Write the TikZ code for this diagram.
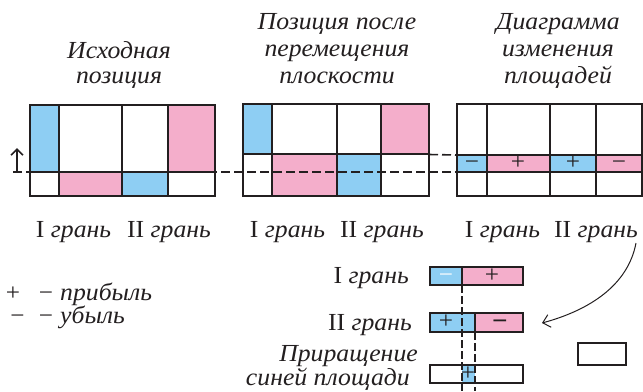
\documentclass[tikz,border=0pt]{standalone}
\usepackage{fontspec}
\setmainfont{Liberation Serif}[FakeStretch=1.05]
\usetikzlibrary{arrows.meta}
\definecolor{cblue}{RGB}{142,206,243}
\definecolor{cpink}{RGB}{244,174,203}
\definecolor{cline}{RGB}{35,31,32}
\tikzset{
  gridln/.style={draw=cline, line width=2bp},
  barln/.style={draw=cline, line width=1.5bp},
  dashln/.style={draw=cline, line width=1.6bp, dash pattern=on 9bp off 4bp},
  vdash/.style={draw=cline, line width=2bp, dash pattern=on 8bp off 3bp},
  lbl/.style={anchor=base, inner sep=0pt, text=cline},
  sgn/.style={anchor=base, inner sep=0pt, text=cline, font=\fontsize{24bp}{24bp}\selectfont},
}
\begin{document}
\begin{tikzpicture}[x=1bp,y=-1bp, font=\fontsize{24.5bp}{28bp}\selectfont]
\useasboundingbox (0,0) rectangle (643,391);
% titles
\node[lbl] (t1a) at (119,58) {\itshape Исходная};
\node[lbl] (t1b) at (119,83) {\itshape позиция};
\node[lbl] (t2a) at (337,29) {\itshape Позиция после};
\node[lbl] (t2b) at (337,56) {\itshape перемещения};
\node[lbl] (t2c) at (337,83) {\itshape плоскости};
\node[lbl] (t3a) at (558,29) {\itshape Диаграмма};
\node[lbl] (t3b) at (558,56) {\itshape изменения};
\node[lbl] (t3c) at (558,83) {\itshape площадей};
% panel fills
\fill[cblue] (30,105) rectangle (58.7,172);
\fill[cpink] (168,105) rectangle (215,172);
\fill[cpink] (58.7,172) rectangle (122,196);
\fill[cblue] (122,172) rectangle (168,196);
\fill[cblue] (243,104) rectangle (272,154);
\fill[cpink] (381,104) rectangle (429,154);
\fill[cpink] (272,154) rectangle (337,196);
\fill[cblue] (337,154) rectangle (381,196);
\fill[cblue] (457,155) rectangle (487,172);
\fill[cpink] (487,155) rectangle (550,172);
\fill[cblue] (550,155) rectangle (596,172);
\fill[cpink] (596,155) rectangle (641.5,172);
% dashed levels
\coordinate (dA) at (13,172);
\coordinate (dB) at (457,172);
\coordinate (dC) at (429,154.5);
\coordinate (dD) at (457,155);
\draw[dashln] (dA) -- (dB);
\draw[dashln] (dC) -- (dD);
% panel grids
\draw[gridln] (30,105) rectangle (215,196);
\draw[gridln] (30,172) -- (215,172) (58.7,105) -- (58.7,196) (122,105) -- (122,196) (168,105) -- (168,196);
\draw[gridln] (243,104) rectangle (429,196);
\draw[gridln] (243,154) -- (429,154) (272,104) -- (272,196) (337,104) -- (337,196) (381,104) -- (381,196);
\draw[gridln] (457,104) rectangle (641.5,196);
\draw[gridln] (457,155) -- (641.5,155) (457,172) -- (641.5,172) (487,104) -- (487,196) (550,104) -- (550,196) (596,104) -- (596,196);
% up arrow
\coordinate (u0) at (17,172);
\coordinate (u1) at (17,148);
\draw[cline, line width=1.6bp, -{Straight Barb[length=6bp,width=12bp]}] (u0) -- (u1);
% strip signs (baseline = centre + 6)
\node[sgn] (s1) at (472,169.5) {−};
\node[sgn] (s2) at (518,169.5) {+};
\node[sgn] (s3) at (573,169.5) {+};
\node[sgn] (s4) at (619,169.5) {−};
% face labels
\node[lbl] (g1) at (73.5,237) {I \itshape грань};
\node[lbl] (g2) at (169,237) {II \itshape грань};
\node[lbl] (g3) at (287.5,237) {I \itshape грань};
\node[lbl] (g4) at (382,237) {II \itshape грань};
\node[lbl] (g5) at (502.5,237) {I \itshape грань};
\node[lbl] (g6) at (596,237) {II \itshape грань};
% legend
\node[sgn] (l1) at (13,300) {+};
\node[sgn] (l2) at (46,300) {−};
\node[lbl, anchor=base west] (l3) at (60,300) {\itshape прибыль};
\node[sgn] (l4) at (17.5,323) {−};
\node[sgn] (l5) at (46,323) {−};
\node[lbl, anchor=base west] (l6) at (60,323) {\itshape убыль};
% bottom labels
\node[lbl, anchor=base east] (b1) at (409,283) {I \itshape грань};
\node[lbl, anchor=base east] (b2) at (412,330) {II \itshape грань};
\node[lbl, anchor=base east] (b3) at (418,361) {\itshape Приращение};
\node[lbl, anchor=base east] (b4) at (410,385) {\itshape синей площади};
% bars
\fill[cblue] (430,267) rectangle (462,285);
\fill[cpink] (462,267) rectangle (523,285);
\draw[barln] (430,267) rectangle (523,285) (462,267) -- (462,285);
\fill[cblue] (430,313) rectangle (475,332);
\fill[cpink] (475,313) rectangle (523,332);
\draw[barln] (430,313) rectangle (523,332) (475,313) -- (475,332);
\fill[white] (430,365) rectangle (523,383);
\fill[cblue] (462,365) rectangle (475,383);
\draw[barln] (430,365) rectangle (523,383);
\coordinate (v1a) at (462,285);
\coordinate (v1b) at (462,391);
\coordinate (v2a) at (475,332);
\coordinate (v2b) at (475,391);
\draw[vdash] (v1a) -- (v1b);
\draw[vdash] (v2a) -- (v2b);
\node[sgn, text=white] (m1) at (446,282) {−};
\node[sgn] (m2) at (492,282) {+};
\node[sgn] (m3) at (446,328.5) {+};
\node[sgn, font=\fontsize{26bp}{26bp}\bfseries] (m4) at (500,329) {−};
\node[sgn] (m5) at (468,380) {+};
% small box
\draw[cline, line width=2.5bp] (578,343) rectangle (626,365);
% curved arrow
\coordinate (aS) at (636,243);
\coordinate (aE) at (542,323);
\draw[cline, line width=1bp, -{Straight Barb[length=7bp,width=13bp]}] (aS) .. controls (628,285) and (590,310) .. (aE);
\end{tikzpicture}
\end{document}
